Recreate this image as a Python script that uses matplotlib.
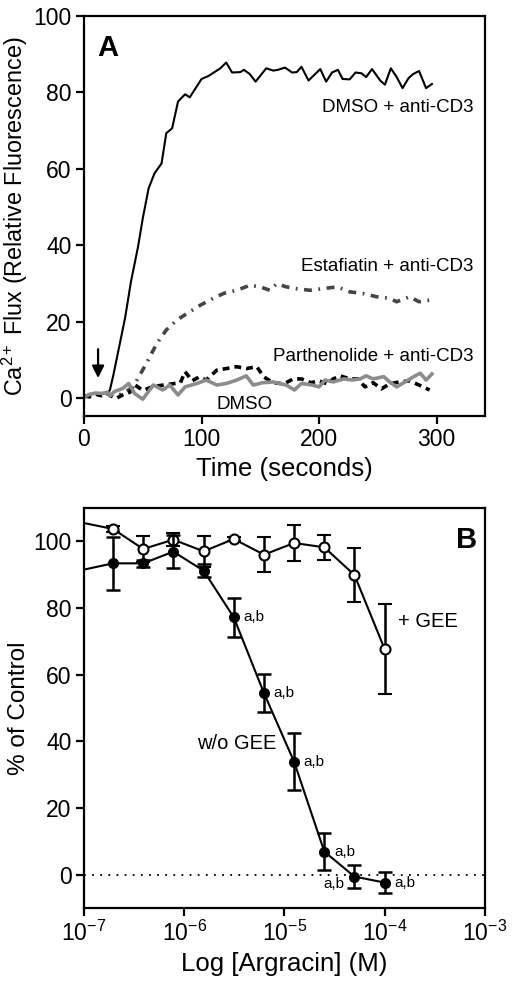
import matplotlib
matplotlib.use("Agg")
import matplotlib.pyplot as plt

plt.rcParams['font.family'] = ['Liberation Sans', 'DejaVu Sans']
plt.rcParams['mathtext.fontset'] = 'custom'
plt.rcParams['mathtext.rm'] = 'Liberation Sans'
plt.rcParams['mathtext.it'] = 'Liberation Sans:italic'
plt.rcParams['mathtext.bf'] = 'Liberation Sans:bold'

# ---- panel A data (time in s, relative fluorescence) ----
t_cd3 = [0, 5, 10, 15, 20, 22, 25, 30, 35, 40, 46, 50, 55, 60, 66, 70, 75, 80, 86, 90,
         100, 106, 116, 121, 126, 133, 136, 141, 146, 155, 161, 165, 171, 177, 181, 185,
         191, 201, 206, 211, 216, 220, 226, 231, 236, 240, 245, 252, 256, 261, 266, 271,
         276, 280, 285, 291, 296]
v_cd3 = [0.5, 1.0, 1.2, 1.0, 1.4, 2.0, 6.0, 13.5, 21.0, 30.5, 39.6, 47.0, 54.9, 58.8, 61.4,
         69.3, 70.6, 77.6, 79.5, 78.7, 83.5, 84.3, 86.3, 87.8, 85.2, 85.3, 85.9, 84.8, 82.8,
         86.3, 85.7, 85.9, 86.5, 85.2, 85.3, 86.7, 83.1, 86.1, 82.8, 85.2, 85.9, 83.5, 83.4,
         85.2, 85.0, 84.0, 86.1, 83.1, 82.0, 86.3, 84.0, 81.1, 83.7, 84.8, 85.6, 81.1, 82.2]

t_esta = [0, 5, 10, 15, 20, 25, 30, 35, 42, 53, 62, 70, 79, 88, 99, 110, 119, 130, 141,
          150, 158, 164, 172, 181, 192, 203, 215, 226, 238, 249, 260, 266, 277, 285, 294]
v_esta = [0.3, 0.8, 1.0, 0.6, 1.2, 0.5, 0.8, 1.5, 3.0, 9.0, 14.3, 17.8, 20.4, 22.2, 24.3,
          26.1, 27.4, 28.2, 29.5, 29.1, 28.2, 29.9, 29.1, 28.6, 28.2, 28.6, 29.1, 27.8,
          27.3, 26.5, 26.1, 25.2, 26.5, 25.2, 25.6]

t_parth = [0, 5, 10, 15, 20, 24, 28, 34, 39, 43, 50, 59, 70, 82, 86, 92, 98, 104, 113, 121,
           130, 138, 147, 153, 161, 170, 178, 185, 193, 200, 207, 212, 218, 226, 233, 239,
           246, 253, 260, 268, 277, 285, 294]
v_parth = [0.5, 0.3, 1.0, 0.6, 1.2, 0.4, 0.0, 1.0, 1.5, 3.5, 2.0, 3.0, 3.5, 4.0, 6.9, 4.5,
           5.5, 4.7, 7.3, 7.7, 8.2, 7.7, 8.2, 5.5, 4.0, 3.7, 5.0, 5.0, 4.0, 4.5, 3.7, 5.0,
           5.8, 5.0, 5.0, 2.9, 4.0, 2.4, 3.7, 4.2, 4.5, 3.4, 2.1]

t_dmso = [0, 5, 10, 15, 20, 22, 26, 33, 38, 43, 50, 59, 67, 73, 80, 86, 96, 104, 113, 121,
          130, 138, 144, 152, 161, 172, 179, 185, 194, 200, 205, 212, 221, 228, 235, 240,
          246, 255, 260, 266, 273, 280, 286, 291, 296]
v_dmso = [0.2, 1.0, 1.3, 1.2, 1.5, 0.5, 1.7, 2.5, 3.8, 1.2, -0.3, 3.4, 2.1, 3.4, 0.8, 2.9,
          3.8, 4.7, 3.4, 3.8, 4.7, 5.8, 3.4, 4.0, 4.2, 3.4, 2.1, 3.8, 3.4, 2.9, 4.7, 4.2,
          5.0, 4.7, 5.0, 5.8, 5.0, 5.6, 4.2, 2.9, 4.2, 5.5, 6.5, 4.7, 6.3]

# ---- panel B data (argracin conc in M, % of control) ----
conc = [4.88e-8, 1.95e-7, 3.9e-7, 7.8e-7, 1.5625e-6, 3.125e-6, 6.25e-6, 1.25e-5,
        2.5e-5, 5e-5, 1e-4]
wo_gee = [89.5, 93.4, 93.4, 96.9, 91.2, 77.2, 54.5, 33.9, 7.0, -0.5, -2.3]
wo_gee_err = [0, 8.0, 1.0, 5.0, 2.0, 5.8, 5.6, 8.5, 5.5, 3.5, 3.1]
gee = [107.4, 103.7, 97.7, 100.5, 97.0, 100.7, 96.0, 99.5, 98.2, 89.9, 67.7]
gee_err = [0, 0.8, 3.8, 2.0, 4.7, 0.5, 5.2, 5.3, 3.7, 8.0, 13.4]
star_idx = [5, 6, 7, 8, 9, 10]

fig = plt.figure(figsize=(5.12, 9.85), dpi=100)
axA = fig.add_axes([0.164, 0.5777, 0.783, 0.4061])
axB = fig.add_axes([0.164, 0.0779, 0.783, 0.4064])

for ax in (axA, axB):
    for s in ax.spines.values():
        s.set_linewidth(1.6)
    ax.tick_params(direction='out', length=6, width=1.6, labelsize=16.5, pad=3)

# panel A
axA.plot(t_cd3, v_cd3, color='black', lw=1.5)
axA.plot(t_esta, v_esta, color='#454545', lw=2.6, dashes=(2.2, 1.8, 0.5, 1.8))
axA.plot(t_parth, v_parth, color='black', lw=2.6, dashes=(1.9, 1.4))
axA.plot(t_dmso, v_dmso, color='#8c8c8c', lw=2.6)
axA.annotate('', xy=(12, 4.5), xytext=(12, 13.5),
             arrowprops=dict(arrowstyle='-|>', color='black', lw=1.6, mutation_scale=18))
axA.set_xlim(0, 341)
axA.set_ylim(-4.7, 100)
axA.set_xticks([0, 100, 200, 300])
axA.set_yticks([0, 20, 40, 60, 80, 100])
axA.set_xlabel('Time (seconds)', fontsize=18.5, labelpad=4)
axA.set_ylabel('Ca$^{2+}$ Flux (Relative Fluorescence)', fontsize=16.8, labelpad=2)
axA.text(11, 91.5, 'A', fontsize=21, fontweight='bold', va='center', ha='left')
axA.text(331, 76, 'DMSO + anti-CD3', fontsize=13.5, ha='right', va='center')
axA.text(331, 34.5, 'Estafiatin + anti-CD3', fontsize=13.5, ha='right', va='center')
axA.text(331, 10.8, 'Parthenolide + anti-CD3', fontsize=13.5, ha='right', va='center')
axA.text(137, -1.8, 'DMSO', fontsize=13.5, ha='center', va='center')

# panel B
axB.axhline(0, color='black', lw=1.3, ls=(0, (1, 3.5)))
axB.errorbar(conc, gee, yerr=gee_err, color='black', lw=1.5, elinewidth=1.8,
             capsize=5, capthick=1.8, marker='o', ms=7.2, mfc='white', mec='black',
             mew=1.5, zorder=3)
axB.errorbar(conc, wo_gee, yerr=wo_gee_err, color='black', lw=1.5, elinewidth=1.8,
             capsize=5, capthick=1.8, marker='o', ms=7, mfc='black', mec='black',
             zorder=4)
for i in star_idx:
    if i == 9:
        axB.annotate('a,b', (conc[i], wo_gee[i]), xytext=(-7, -5), textcoords='offset points',
                     ha='right', va='center', fontsize=11)
    else:
        axB.annotate('a,b', (conc[i], wo_gee[i]), xytext=(7, 0), textcoords='offset points',
                     ha='left', va='center', fontsize=11)
axB.text(1.36e-4, 76, '+ GEE', fontsize=14.5, ha='left', va='center')
axB.text(1.33e-6, 39.5, 'w/o GEE', fontsize=14.5, ha='left', va='center')
axB.text(8.3e-4, 100.5, 'B', fontsize=21, fontweight='bold', ha='right', va='center')
axB.set_xscale('log')
axB.set_xlim(1e-7, 1e-3)
axB.set_ylim(-10, 110)
axB.set_xticks([1e-7, 1e-6, 1e-5, 1e-4, 1e-3])
axB.set_xticklabels(['10$^{-7}$', '10$^{-6}$', '10$^{-5}$', '10$^{-4}$', '10$^{-3}$'])
axB.xaxis.set_minor_locator(matplotlib.ticker.NullLocator())
axB.set_yticks([0, 20, 40, 60, 80, 100])
axB.set_xlabel('Log [Argracin] (M)', fontsize=18.5, labelpad=4)
axB.set_ylabel('% of Control', fontsize=17.5, labelpad=2)

fig.savefig('out.png', dpi=100)
